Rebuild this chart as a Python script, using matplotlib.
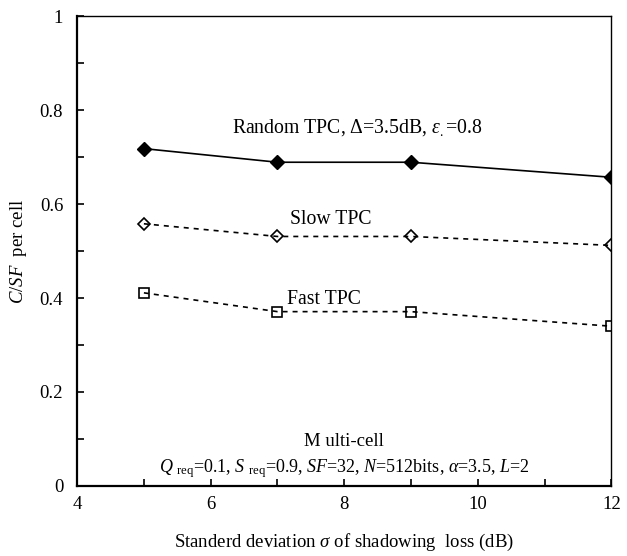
import numpy as np
import matplotlib
matplotlib.use("Agg")
import matplotlib.pyplot as plt
from matplotlib.ticker import MultipleLocator

plt.rcParams["font.family"] = ["Liberation Serif", "DejaVu Serif"]
plt.rcParams["mathtext.fontset"] = "custom"
plt.rcParams["mathtext.rm"] = "Liberation Serif"
plt.rcParams["mathtext.it"] = "Liberation Serif:italic"
plt.rcParams["mathtext.bf"] = "Liberation Serif:bold"

sigma = [5, 7, 9, 12]
random_tpc = [0.718, 0.689, 0.689, 0.657]
slow_tpc = [0.558, 0.531, 0.531, 0.512]
fast_tpc = [0.411, 0.371, 0.371, 0.340]

x_ticks = [4, 6, 8, 10, 12]
y_ticks = [0, 0.2, 0.4, 0.6, 0.8, 1]
y_labels = ["0", "0.2", "0.4", "0.6", "0.8", "1"]

fig = plt.figure(figsize=(6.27, 5.56), dpi=100)
ax = fig.add_axes([0.123, 0.126, 0.852, 0.845])

ax.plot(sigma, random_tpc, color="black", lw=1.2, marker="D", ms=7,
        mfc="black", mec="black")
ax.plot(sigma, slow_tpc, color="black", lw=1.2, dashes=(3, 3), marker="D",
        ms=6, mfc="none", mec="black", mew=1.2)
ax.plot(sigma, fast_tpc, color="black", lw=1.2, dashes=(3, 3), marker="s",
        ms=6.5, mfc="none", mec="black", mew=1.2)

fs = 13.5
ax.text(8.2, 0.762, r"Random TPC, $\Delta$=3.5dB, $\mathit{\varepsilon}_{.}$=0.8",
        ha="center", va="center", fontsize=14.2)
ax.text(7.8, 0.567, "Slow TPC", ha="center", va="center", fontsize=14.2)
ax.text(7.7, 0.397, "Fast TPC", ha="center", va="center", fontsize=14.2)
ax.text(8.0, 0.094, "M ulti-cell", ha="center", va="center", fontsize=fs)
ax.text(8.0, 0.038,
        r"$Q$ $_{\rm req}$=0.1, $S$ $_{\rm req}$=0.9, $SF$=32, $N$=512bits, "
        r"$\alpha$=3.5, $L$=2",
        ha="center", va="center", fontsize=13)

ax.set_xlim(4, 12)
ax.set_ylim(0, 1)
ax.set_xticks(x_ticks)
ax.set_yticks(y_ticks)
ax.set_yticklabels(y_labels)
ax.xaxis.set_minor_locator(MultipleLocator(1))
ax.yaxis.set_minor_locator(MultipleLocator(0.1))
ax.tick_params(which="both", direction="in", length=5, width=1.2,
               labelsize=fs, top=False, right=False)
ax.tick_params(axis="y", pad=10)
ax.tick_params(axis="x", pad=7)

for side in ["left", "bottom"]:
    ax.spines[side].set_linewidth(1.6)
for side in ["top", "right"]:
    ax.spines[side].set_linewidth(1.0)

ax.set_xlabel(r"Standerd deviation $\sigma$ of shadowing  loss (dB)",
              fontsize=fs, labelpad=14)
ax.set_ylabel(r"$C/SF$  per cell", fontsize=fs, labelpad=8)

fig.savefig("out.png", dpi=100)
